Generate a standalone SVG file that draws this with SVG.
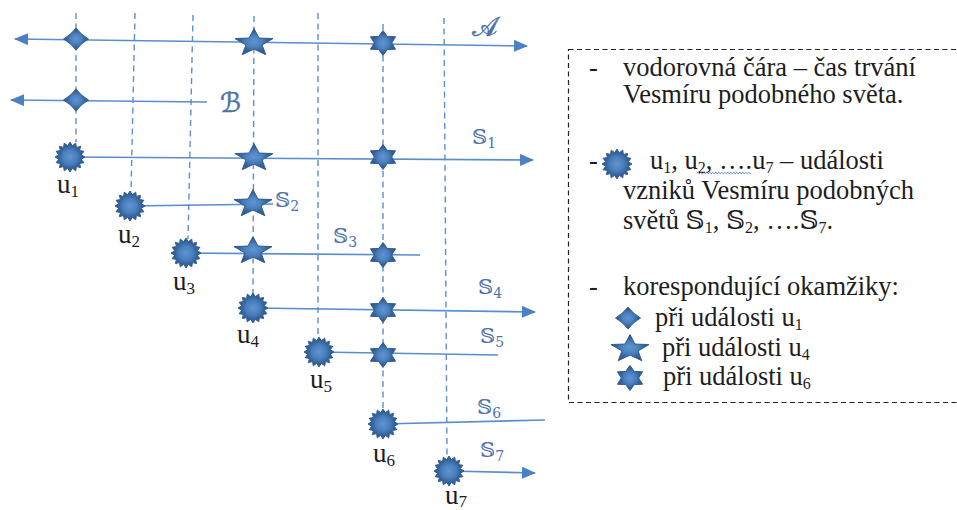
<svg xmlns="http://www.w3.org/2000/svg" xmlns:xlink="http://www.w3.org/1999/xlink" width="957" height="510" viewBox="0 0 957 510">
  <style>
    .world { fill: none; stroke: #5a8dcc; stroke-width: 1.6; }
    .time { fill: none; stroke: #5b8fd0; stroke-width: 1.4; stroke-dasharray: 6 4.5; }
    .shape { fill: url(#shade); stroke: #2f5b90; stroke-width: 1; stroke-linejoin: round; }
    .lbl { font-family: "DejaVu Serif", "DejaVu Sans", serif; fill: #4d72ab; font-size: 21px; }
    .script { font-family: "DejaVu Serif", "DejaVu Sans", serif; fill: #4d72ab; stroke: #4d72ab; stroke-width: 0.5; font-size: 27px; }
    .ev { font-family: "Liberation Serif", serif; fill: #1d1d1d; font-size: 27px; }
    .txt { font-family: "Liberation Serif", "DejaVu Serif", serif; fill: #1d1d1d; font-size: 26.5px; }
  </style>
  <defs>
    <radialGradient id="shade" cx="50%" cy="50%" r="50%">
      <stop offset="0" stop-color="#5f95d4"/>
      <stop offset="0.45" stop-color="#4b7fbd"/>
      <stop offset="0.75" stop-color="#34639a"/>
      <stop offset="1" stop-color="#2f5b90"/>
    </radialGradient>
    <marker id="arrow" viewBox="0 0 14 12" refX="13" refY="6" markerWidth="14" markerHeight="12" markerUnits="userSpaceOnUse" orient="auto-start-reverse">
      <path d="M0,0 L14,6 L0,12 Z" fill="#4a80c4"/>
    </marker>
    <!-- origin event: 16-point seal -->
    <path id="burst" class="shape" d="M15,0 L11.28,2.24 L13.86,5.74 L9.56,6.39 L10.61,10.61 L6.39,9.56 L5.74,13.86 L2.24,11.28 L0,15 L-2.24,11.28 L-5.74,13.86 L-6.39,9.56 L-10.61,10.61 L-9.56,6.39 L-13.86,5.74 L-11.28,2.24 L-15,0 L-11.28,-2.24 L-13.86,-5.74 L-9.56,-6.39 L-10.61,-10.61 L-6.39,-9.56 L-5.74,-13.86 L-2.24,-11.28 L0,-15 L2.24,-11.28 L5.74,-13.86 L6.39,-9.56 L10.61,-10.61 L9.56,-6.39 L13.86,-5.74 L11.28,-2.24 Z"/>
    <!-- moment of u1 -->
    <path id="diamond" class="shape" d="M0,-11 Q5,-4.2 12.5,0 Q5,4.2 0,11 Q-5,4.2 -12.5,0 Q-5,-4.2 0,-11 Z"/>
    <!-- moment of u4 -->
    <path id="star5" class="shape" d="M0,-14.4 L5,-4.95 L19.02,-4.45 L8.08,1.89 L11.76,11.65 L0,6.12 L-11.76,11.65 L-8.08,1.89 L-19.02,-4.45 L-5,-4.95 Z"/>
    <!-- moment of u6 -->
    <path id="star6" class="shape" d="M0,-12.5 L4.35,-6.5 L12.56,-6.25 L8.7,0 L12.56,6.25 L4.35,6.5 L0,12.5 L-4.35,6.5 L-12.56,6.25 L-8.7,0 L-12.56,-6.25 L-4.35,-6.5 Z"/>
  </defs>

  <rect width="957" height="510" fill="#ffffff"/>

  <g id="connectors">
    <!-- time slices through each origin event -->
    <path class="time" d="M76,13 L76,142"/>
    <path class="time" d="M135,13 L131,192"/>
    <path class="time" d="M193,15 L188,239"/>
    <path class="time" d="M254,16 L253,294"/>
    <path class="time" d="M318,13 L318,337"/>
    <path class="time" d="M383,24 L383,410"/>
    <path class="time" d="M444,18 L447,457"/>
    <!-- world lines -->
    <path class="world" d="M15,39 L527,46" marker-start="url(#arrow)" marker-end="url(#arrow)"/>
    <path class="world" d="M11,100 L207,102" marker-start="url(#arrow)"/>
    <path class="world" d="M70,157 L533,160" marker-end="url(#arrow)"/>
    <path class="world" d="M130,206 L273,204"/>
    <path class="world" d="M186,253 L420,255"/>
    <path class="world" d="M253,308 L535,312" marker-end="url(#arrow)"/>
    <path class="world" d="M319,352 L498,355"/>
    <path class="world" d="M383,424 L545,420"/>
    <path class="world" d="M449,471 L535,473" marker-end="url(#arrow)"/>
  </g>

  <g id="moments">
    <use xlink:href="#diamond" x="76" y="39"/>
    <use xlink:href="#diamond" x="76" y="100"/>
    <use xlink:href="#star5" x="254" y="43"/>
    <use xlink:href="#star5" x="254" y="158"/>
    <use xlink:href="#star5" x="253" y="204"/>
    <use xlink:href="#star5" x="253" y="251"/>
    <use xlink:href="#star6" x="383" y="43"/>
    <use xlink:href="#star6" x="383" y="157"/>
    <use xlink:href="#star6" x="383" y="255"/>
    <use xlink:href="#star6" x="383" y="310"/>
    <use xlink:href="#star6" x="383" y="355"/>
  </g>

  <g id="world-labels">
    <text class="script" x="472" y="36">𝒜</text>
    <text class="script" x="220" y="112">ℬ</text>
    <text class="lbl" x="472" y="144">𝕊<tspan font-size="14" dy="4">1</tspan></text>
    <text class="lbl" x="275" y="207">𝕊<tspan font-size="14" dy="4">2</tspan></text>
    <text class="lbl" x="333" y="243">𝕊<tspan font-size="14" dy="4">3</tspan></text>
    <text class="lbl" x="478" y="294">𝕊<tspan font-size="14" dy="4">4</tspan></text>
    <text class="lbl" x="480" y="343">𝕊<tspan font-size="14" dy="4">5</tspan></text>
    <text class="lbl" x="477" y="414">𝕊<tspan font-size="14" dy="4">6</tspan></text>
    <text class="lbl" x="480" y="457">𝕊<tspan font-size="14" dy="4">7</tspan></text>
  </g>

  <g id="u1"><use xlink:href="#burst" x="70" y="157"/><text class="ev" x="57" y="193">u<tspan font-size="17" dy="4">1</tspan></text></g>
  <g id="u2"><use xlink:href="#burst" x="130" y="206"/><text class="ev" x="118" y="243">u<tspan font-size="17" dy="4">2</tspan></text></g>
  <g id="u3"><use xlink:href="#burst" x="186" y="253"/><text class="ev" x="173" y="290">u<tspan font-size="17" dy="4">3</tspan></text></g>
  <g id="u4"><use xlink:href="#burst" x="253" y="308"/><text class="ev" x="237" y="343">u<tspan font-size="17" dy="4">4</tspan></text></g>
  <g id="u5"><use xlink:href="#burst" x="319" y="352"/><text class="ev" x="310" y="388">u<tspan font-size="17" dy="4">5</tspan></text></g>
  <g id="u6"><use xlink:href="#burst" x="383" y="424"/><text class="ev" x="373" y="462">u<tspan font-size="17" dy="4">6</tspan></text></g>
  <g id="u7"><use xlink:href="#burst" x="449" y="471"/><text class="ev" x="445" y="504">u<tspan font-size="17" dy="3">7</tspan></text></g>

  <g id="legend">
    <rect x="568.5" y="49.5" width="400" height="353" fill="none" stroke="#222" stroke-width="1.2" stroke-dasharray="5 3.5"/>
    <text class="txt" x="589" y="76">-</text>
    <text class="txt" x="623" y="76">vodorovná čára – čas trvání</text>
    <text class="txt" x="623" y="103">Vesmíru podobného světa.</text>

    <text class="txt" x="589" y="169">-</text>
    <use xlink:href="#burst" x="617" y="164"/>
    <text class="txt" x="650" y="169">u<tspan font-size="16" dy="4">1</tspan><tspan dy="-4">, u</tspan><tspan font-size="16" dy="4">2</tspan><tspan dy="-4">, ….u</tspan><tspan font-size="16" dy="4">7</tspan><tspan dy="-4"> – události</tspan></text>
    <path d="M697,173 q0.75,-1.4 1.5,0 t1.5,0 t1.5,0 t1.5,0 t1.5,0 t1.5,0 t1.5,0 t1.5,0 t1.5,0 t1.5,0 t1.5,0 t1.5,0 t1.5,0 t1.5,0 t1.5,0 t1.5,0 t1.5,0 t1.5,0 t1.5,0 t1.5,0 t1.5,0 t1.5,0 t1.5,0 t1.5,0 t1.5,0 t1.5,0 t1.5,0 t1.5,0 t1.5,0 t1.5,0 t1.5,0 t1.5,0 t1.5,0 t1.5,0 t1.5,0 t1.5,0" fill="none" stroke="#4a66d0" stroke-width="0.9"/>
    <text class="txt" x="623" y="199">vzniků Vesmíru podobných</text>
    <text class="txt" x="623" y="229">světů 𝕊<tspan font-size="16" dy="4">1</tspan><tspan dy="-4">, 𝕊</tspan><tspan font-size="16" dy="4">2</tspan><tspan dy="-4">, ….𝕊</tspan><tspan font-size="16" dy="4">7</tspan><tspan dy="-4">.</tspan></text>

    <text class="txt" x="589" y="295">-</text>
    <text class="txt" x="623" y="295">korespondující okamžiky:</text>
    <use xlink:href="#diamond" x="628" y="318"/>
    <text class="txt" x="655" y="326">při události u<tspan font-size="16" dy="4">1</tspan></text>
    <use xlink:href="#star5" x="630" y="349"/>
    <text class="txt" x="662" y="356">při události u<tspan font-size="16" dy="4">4</tspan></text>
    <use xlink:href="#star6" x="630" y="378"/>
    <text class="txt" x="663" y="385">při události u<tspan font-size="16" dy="4">6</tspan></text>
  </g>
</svg>
